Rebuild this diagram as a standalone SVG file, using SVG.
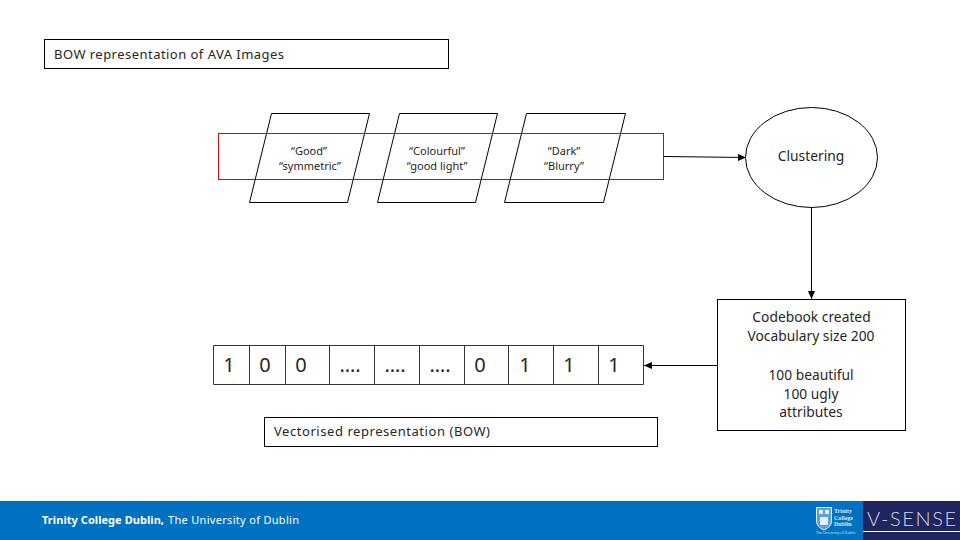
<svg xmlns="http://www.w3.org/2000/svg" width="960" height="540" viewBox="0 0 960 540">
<style>
text{font-family:"Noto Sans","DejaVu Sans",sans-serif;fill:#262626;text-anchor:middle}
.box{fill:#fff;stroke:#000;stroke-width:1}
.para{fill:none;stroke:#000;stroke-width:1}
.lab{font-size:13.800px}
.head{font-size:13px;text-anchor:start}
.small{font-size:11px}
.cell{fill:none;stroke:#333;stroke-width:1}
.num{font-size:20px}
.conn{fill:none;stroke:#000;stroke-width:1;marker-end:url(#arrow)}
.crest{fill:#dcebf8;text-anchor:start;font-size:6px;font-weight:700;font-family:"Liberation Serif",serif}
</style>
<defs>
<marker id="arrow" markerUnits="userSpaceOnUse" markerWidth="8" markerHeight="7" refX="8" refY="3.500" orient="auto"><path d="M0 0L8 3.500L0 7Z" fill="#000"/></marker>
</defs>
<rect width="960" height="540" fill="#fff"/>
<g id="title"><rect class="box" x="44.500" y="39.500" width="404" height="29"/><text class="head" x="54" y="59" textLength="230">BOW representation of AVA Images</text></g>
<g id="strip"><rect x="218.500" y="133.500" width="445" height="46" fill="#fff" stroke="#e00000"/></g>
<g id="para1"><path class="para" d="M271.500 113.500H369.500L347.500 202.500H249.500Z"/><text class="small" x="309" y="155">“Good”</text><text class="small" x="310" y="170">“symmetric”</text></g>
<g id="para2"><path class="para" d="M399.500 113.500H497.500L475.500 202.500H377.500Z"/><text class="small" x="437" y="155">“Colourful”</text><text class="small" x="437" y="170">“good light”</text></g>
<g id="para3"><path class="para" d="M526.500 113.500H625.500L603.500 202.500H504.500Z"/><text class="small" x="564" y="155">“Dark”</text><text class="small" x="564" y="170">“Blurry”</text></g>
<g id="clustering"><ellipse cx="811.500" cy="157.500" rx="66" ry="50" fill="#fff" stroke="#000"/><text class="lab" x="811" y="161">Clustering</text></g>
<g id="codebook"><rect class="box" x="717.500" y="299.500" width="188" height="131"/>
<text class="lab" x="811.500" y="322">Codebook created</text><text class="lab" x="811" y="341">Vocabulary size 200</text><text class="lab" x="811" y="380">100 beautiful</text><text class="lab" x="811" y="399">100 ugly</text><text class="lab" x="811" y="417">attributes</text></g>
<g id="vector">
<path class="cell" d="M213.500 345.500H643.500V384.500H213.500ZM249.500 345.500V384.500M285.500 345.500V384.500M329.500 345.500V384.500M374.500 345.500V384.500M419.500 345.500V384.500M464.500 345.500V384.500M508.500 345.500V384.500M553.500 345.500V384.500M598.500 345.500V384.500"/>
<text class="num" x="229" y="372">1</text><text class="num" x="265" y="372">0</text><text class="num" x="301" y="372">0</text><text class="num" x="350" y="372">….</text><text class="num" x="395" y="372">….</text><text class="num" x="440" y="372">….</text><text class="num" x="480" y="372">0</text><text class="num" x="525" y="372">1</text><text class="num" x="569" y="372">1</text><text class="num" x="614" y="372">1</text></g>
<g id="caption"><rect class="box" x="264.500" y="417.500" width="393" height="29"/><text class="head" x="274" y="436" textLength="216">Vectorised representation (BOW)</text></g>
<g id="connectors">
<path class="conn" d="M663.500 156.500L746 157.500"/>
<path class="conn" d="M811.500 207.500V299"/>
<path class="conn" d="M717.500 365.500H644"/>
</g>
<g id="footer"><rect x="0" y="501" width="960" height="39" fill="#0070c0"/><rect x="863" y="501" width="97" height="39" fill="#1f2560"/>
<text x="42" y="524" style="fill:#fff;text-anchor:start;font-size:11px;font-weight:700" textLength="122">Trinity College Dublin,</text><text x="168" y="524" style="fill:#fff;text-anchor:start;font-size:11px" textLength="131">The University of Dublin</text>
<path d="M816.500 507.500H831.500V521Q831.500 527 824 530Q816.500 527 816.500 521Z" fill="#5a9fd8" stroke="#e6f0fa" stroke-width="1"/>
<path d="M819 510H823V514H819ZM825 510H829V514H825ZM820 517H828V525H820Z" fill="#e6f0fa"/>
<text class="crest" x="834" y="513">Trinity</text><text class="crest" x="834" y="519.500">College</text><text class="crest" x="834" y="526">Dublin</text>
<text x="816" y="534" style="fill:#cfe3f5;text-anchor:start;font-size:3.500px">The University of Dublin</text>
<text x="867" y="526" style="fill:#d5d8e8;text-anchor:start;font-size:20px;font-family:Lato,sans-serif;font-weight:300" textLength="89">V-SENSE</text>
<rect x="863" y="531" width="97" height="1" fill="#fff"/></g>
</svg>
